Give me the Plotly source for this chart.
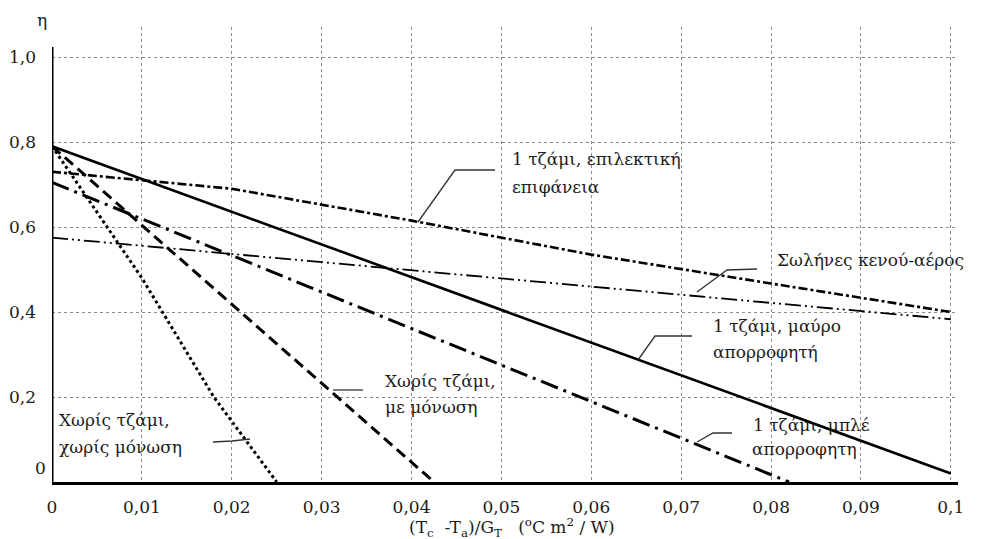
import plotly.graph_objects as go

# ---------------- data ----------------
x_ticks = [0, 0.01, 0.02, 0.03, 0.04, 0.05, 0.06, 0.07, 0.08, 0.09, 0.1]
x_tick_text = ["0", "0,01", "0,02", "0,03", "0,04", "0,05", "0,06", "0,07", "0,08", "0,09", "0,1"]
y_ticks = [0.2, 0.4, 0.6, 0.8, 1.0]
y_tick_text = ["0,2", "0,4", "0,6", "0,8", "1,0"]

# 1 τζάμι, μαύρο απορροφητή (solid)
black_x = [0, 0.1]
black_y = [0.79, 0.02]
# Χωρίς τζάμι, χωρίς μόνωση (dotted)
bare_x = [0, 0.01, 0.018, 0.025]
bare_y = [0.79, 0.48, 0.20, 0.0]
# Χωρίς τζάμι, με μόνωση (dashed)
insul_x = [0, 0.0425]
insul_y = [0.79, 0.0]
# 1 τζάμι, μπλέ απορροφητη (dash-dot)
blue_x = [0, 0.082]
blue_y = [0.705, 0.0]
# 1 τζάμι, επιλεκτική επιφάνεια (dash-dot, dense)
sel_x = [0, 0.01, 0.02, 0.04, 0.06, 0.08, 0.1]
sel_y = [0.73, 0.71, 0.69, 0.615, 0.535, 0.467, 0.40]
# Σωλήνες κενού-αέρος (long dash-dot-dot)
vac_x = [0, 0.1]
vac_y = [0.575, 0.383]

# ---------------- geometry helpers ----------------
L, R, T, B = 52, 23, 27, 57
W, H = 981, 539
XR = [0, 0.1008]
YR = [0, 1.0706]


def dx(px):
    return (px - L) / (W - L - R) * (XR[1] - XR[0]) + XR[0]


def dy(py):
    return (H - B - py) / (H - B - T) * (YR[1] - YR[0]) + YR[0]


def px_(px):
    return (px - L) / (W - L - R)


def py_(py):
    return (H - B - py) / (H - B - T)


FONT = "DejaVu Serif"
TXT = "#1c1c1c"
FS = 17

fig = go.Figure()

series = [
    (black_x, black_y, "1 τζάμι, μαύρο απορροφητή", dict(color="black", width=2.6, dash="solid")),
    (bare_x, bare_y, "Χωρίς τζάμι, χωρίς μόνωση", dict(color="black", width=3, dash="3px,3px")),
    (insul_x, insul_y, "Χωρίς τζάμι, με μόνωση", dict(color="black", width=3, dash="11px,6px")),
    (blue_x, blue_y, "1 τζάμι, μπλέ απορροφητη", dict(color="black", width=3, dash="18px,6px,3px,6px")),
    (sel_x, sel_y, "1 τζάμι, επιλεκτική επιφάνεια", dict(color="black", width=2.6, dash="9px,3px,3px,3px")),
    (vac_x, vac_y, "Σωλήνες κενού-αέρος", dict(color="black", width=1.8, dash="16px,4px,2px,4px,2px,4px")),
]
for xs, ys, name, ln in series:
    fig.add_trace(go.Scatter(x=xs, y=ys, mode="lines", name=name, line=ln,
                             showlegend=False, hoverinfo="name"))

# leader lines (pixel polylines -> data coords)
leaders = [
    [(418, 222), (455, 170), (495, 170)],
    [(697, 292), (727, 270), (757, 269)],
    [(638, 360), (655, 336), (692, 336)],
    [(697, 442), (713, 433), (732, 433)],
    [(333, 390), (363, 390)],
    [(213, 442), (232, 441), (250, 439)],
]
for pts in leaders:
    fig.add_trace(go.Scatter(x=[dx(p[0]) for p in pts], y=[dy(p[1]) for p in pts],
                             mode="lines", line=dict(color="#333", width=1.3),
                             showlegend=False, hoverinfo="skip"))

# text labels (left x px, centre y px)
labels = [
    ("1 τζάμι, επιλεκτική", 510, 159),
    ("επιφάνεια", 510, 187),
    ("Σωλήνες κενού-αέρος", 775, 260),
    ("1 τζάμι, μαύρο", 711, 326),
    ("απορροφητή", 711, 352),
    ("1 τζάμι, μπλέ", 751, 425),
    ("απορροφητη", 750, 449),
    ("Χωρίς τζάμι,", 383, 381),
    ("με μόνωση", 383, 407),
    ("Χωρίς τζάμι,", 57, 420),
    ("χωρίς μόνωση", 57, 447),
]
for t, px, py in labels:
    fig.add_annotation(x=px_(px), y=py_(py), xref="paper", yref="paper", text=t,
                       showarrow=False, xanchor="left", yanchor="middle",
                       font=dict(family=FONT, size=FS, color=TXT))

# y-axis "0" label and axis titles
fig.add_annotation(x=px_(40), y=py_(468), xref="paper", yref="paper", text="0",
                   showarrow=False, xanchor="center", yanchor="middle",
                   font=dict(family=FONT, size=FS, color=TXT))
fig.add_annotation(x=px_(42), y=py_(20), xref="paper", yref="paper", text="η",
                   showarrow=False, xanchor="center", yanchor="middle",
                   font=dict(family=FONT, size=FS, color=TXT))
fig.add_annotation(x=px_(512), y=py_(527), xref="paper", yref="paper",
                   text="(T<sub>c</sub>  -T<sub>a</sub>)/G<sub>T</sub>   (<sup>o</sup>C m<sup>2</sup> / W)",
                   showarrow=False, xanchor="center", yanchor="middle",
                   font=dict(family=FONT, size=FS, color=TXT))

# y axis line
fig.add_shape(type="line", x0=0, x1=0, y0=0, y1=dy(47), xref="x", yref="y",
              line=dict(color="black", width=3))

fig.update_layout(
    width=W, height=H,
    margin=dict(l=L, r=R, t=T, b=B, pad=0, autoexpand=False),
    paper_bgcolor="white", plot_bgcolor="white",
    font=dict(family=FONT, size=FS, color=TXT),
    xaxis=dict(range=XR, tickvals=x_ticks, ticktext=x_tick_text, showgrid=True,
               gridcolor="#8a8a8a", gridwidth=1, griddash="dot", zeroline=False,
               showline=True, linecolor="black", linewidth=3, ticks="",
               ticklabelstandoff=8, fixedrange=True, automargin=False,
               tickfont=dict(family=FONT, size=FS, color=TXT)),
    yaxis=dict(range=YR, tickvals=y_ticks, ticktext=y_tick_text, showgrid=True,
               gridcolor="#8a8a8a", gridwidth=1, griddash="dot", zeroline=False,
               showline=False, ticks="", ticklabelstandoff=15, fixedrange=True,
               automargin=False,
               tickfont=dict(family=FONT, size=FS, color=TXT)),
    showlegend=False,
)

fig.write_html("out.html", config={"displayModeBar": False},
               post_script="document.body.style.margin='0';document.body.style.padding='0';")
